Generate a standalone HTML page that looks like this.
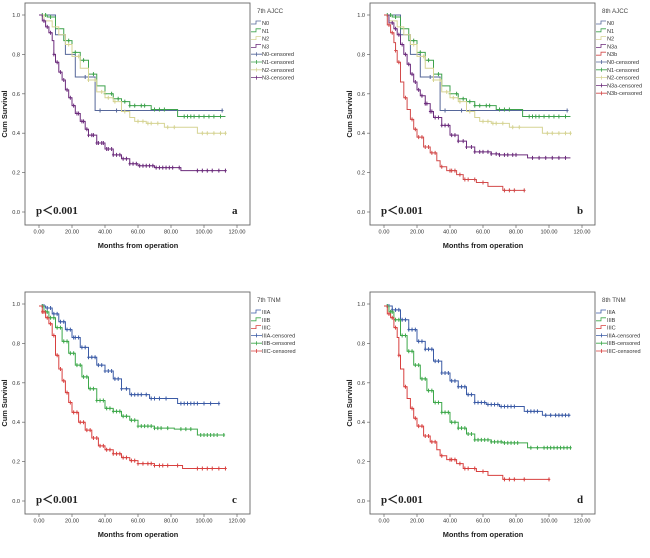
<!DOCTYPE html>
<html><head><meta charset="utf-8">
<style>
html,body{margin:0;padding:0;background:#fff;}
svg{display:block;font-family:"Liberation Sans",sans-serif;}
</style></head>
<body>
<svg id="fig" width="650" height="558" viewBox="0 0 650 558"></svg>
<script>
// ---- Data ----
const xTicks = [0,20,40,60,80,100,120];
const xTickLabels = ["0.00","20.00","40.00","60.00","80.00","100.00","120.00"];
const yTicks = [0,0.2,0.4,0.6,0.8,1.0];
const yTickLabels = ["0.0","0.2","0.4","0.6","0.8","1.0"];

// Panel a (7th AJCC)
const aN0_t = [0,10,16,22,34,111];
const aN0_s = [1.0,0.9,0.8,0.685,0.515,0.515];
const aN0_c = [28,37,47,111];
const aN1_t = [0,5,10,15,20,25,30,35,40,45,50,55,68,84,113];
const aN1_s = [1.0,0.99,0.93,0.87,0.81,0.77,0.70,0.64,0.60,0.575,0.56,0.54,0.52,0.485,0.485];
const aN1_c = [2,4,7,18,22,27,33,40,44,48,52,55,58,62,64,70,73,76,88,90,92,94,97,100,103,106,110];
const aN2_t = [0,3,8,12,16,20,25,30,35,40,45,50,55,58,65,76,96,113];
const aN2_s = [1.0,0.97,0.94,0.90,0.85,0.79,0.73,0.67,0.61,0.58,0.56,0.51,0.48,0.46,0.45,0.43,0.40,0.40];
const aN2_c = [18,24,30,34,38,42,46,52,60,63,66,68,72,78,82,99,102,106,110,113];
const aN3_t = [0,2,4,6,8,9,10,12,14,16,18,20,22,25,28,30,35,40,45,50,55,60,70,86,113];
const aN3_s = [1.0,0.97,0.94,0.91,0.87,0.80,0.76,0.71,0.67,0.62,0.58,0.54,0.50,0.46,0.42,0.39,0.35,0.32,0.29,0.27,0.245,0.235,0.225,0.21,0.21];
const aN3_c = [3,5,7,9,11,13,15,17,19,21,23,24,26,27,29,30,32,33,35,36,38,39,41,42,44,45,47,49,51,53,55,57,59,61,63,65,67,69,71,73,75,77,79,81,85,96,99,102,105,109,113];

// Panel b (8th AJCC)
const bN3a_t = [0,3,6,8,10,12,14,16,18,20,22,25,28,30,35,40,45,50,55,65,70,87,113];
const bN3a_s = [1.0,0.96,0.93,0.90,0.85,0.80,0.75,0.70,0.66,0.62,0.59,0.55,0.51,0.48,0.44,0.39,0.36,0.33,0.305,0.295,0.29,0.275,0.275];
const bN3a_c = [5,7,9,11,13,15,17,19,21,23,25,26,28,29,31,33,35,37,39,41,43,45,48,50,53,55,58,60,63,65,68,70,73,75,78,80,90,94,98,102,106,110];
const bN3b_t = [0,2,4,6,7,8,10,12,14,16,18,20,24,28,32,34,38,44,48,56,63,72,85];
const bN3b_s = [1.0,0.95,0.91,0.86,0.82,0.76,0.66,0.58,0.52,0.47,0.42,0.38,0.33,0.30,0.26,0.23,0.21,0.19,0.165,0.15,0.13,0.11,0.11];
const bN3b_c = [3,5,7,9,13,17,19,21,23,25,27,29,31,35,40,41,43,46,49,51,55,60,73,76,79,85];

// Panel c (7th TNM)
const cA_t = [0,4,8,12,16,20,25,30,35,40,45,50,55,67,84,109];
const cA_s = [0.99,0.98,0.95,0.91,0.87,0.83,0.78,0.73,0.69,0.66,0.62,0.57,0.54,0.52,0.495,0.495];
const cA_c = [2,3,5,7,9,11,13,15,17,19,21,22,24,26,28,30,32,34,36,38,40,42,44,46,48,50,53,56,58,60,62,65,68,70,73,77,86,88,90,92,94,96,100,104,109];
const cB_t = [0,3,6,10,14,18,22,26,30,35,40,45,50,55,60,70,82,96,112];
const cB_s = [0.99,0.96,0.93,0.88,0.81,0.75,0.69,0.63,0.57,0.51,0.47,0.455,0.43,0.41,0.38,0.37,0.365,0.335,0.335];
const cB_c = [2,4,5,7,9,11,13,15,17,19,21,23,25,27,29,31,33,35,37,39,41,43,45,47,49,51,53,56,58,60,62,64,66,68,70,72,74,78,86,89,92,98,100,102,104,106,108,112];
const cC_t = [0,2,4,6,8,10,12,14,16,18,20,24,28,32,36,40,45,50,55,60,70,87,113];
const cC_s = [0.99,0.96,0.93,0.90,0.84,0.74,0.67,0.61,0.55,0.50,0.45,0.40,0.36,0.32,0.28,0.26,0.24,0.22,0.205,0.19,0.18,0.165,0.165];
const cC_c = [2,3,5,7,9,11,13,15,17,19,21,23,25,27,29,31,33,35,37,39,41,43,45,47,49,51,53,56,58,60,63,66,68,70,73,75,78,84,96,99,102,105,109,113];

// Panel d (8th TNM)
const dA_t = [0,5,10,15,20,25,30,35,40,45,50,55,62,70,85,96,113];
const dA_s = [0.99,0.97,0.92,0.87,0.81,0.77,0.71,0.65,0.61,0.58,0.54,0.50,0.49,0.48,0.455,0.435,0.435];
const dA_c = [2,3,5,7,9,11,13,15,17,19,21,23,25,27,29,31,33,35,37,39,41,43,45,47,49,51,53,55,57,59,61,63,65,67,69,71,73,75,77,79,87,89,91,93,98,101,104,106,108,110,112];
const dB_t = [0,3,6,10,14,18,22,26,30,35,40,45,50,55,65,72,87,113];
const dB_s = [0.99,0.96,0.92,0.84,0.76,0.69,0.62,0.56,0.50,0.45,0.40,0.37,0.34,0.31,0.30,0.295,0.27,0.27];
const dB_c = [2,4,5,7,9,11,13,15,17,19,21,23,25,27,29,31,33,35,37,39,41,43,45,47,49,51,53,55,57,59,61,63,65,67,69,71,73,75,77,79,81,89,93,97,99,101,103,105,107,109,111,113];
const dC_t = [0,2,4,6,8,9,10,12,14,16,18,20,24,28,32,34,38,44,48,56,63,72,100];
const dC_s = [0.99,0.95,0.93,0.88,0.83,0.74,0.67,0.58,0.52,0.47,0.42,0.38,0.33,0.30,0.26,0.23,0.21,0.19,0.165,0.15,0.13,0.11,0.11];
const dC_c = [3,5,7,9,13,17,19,21,23,25,27,29,31,35,40,41,43,46,49,51,55,60,73,76,79,85,100];

const C = {N0:"#56679a",N1:"#3ea24c",N2:"#d6d494",N3:"#6c2c7c",N3b:"#d24a4a",A:"#3b5ba6",B:"#3da84a",Cc:"#d8403f"};

const panels = [
 {id:"a",dx:0,dy:0,title:"7th AJCC",curves:[
   ["N0",aN0_t,aN0_s,aN0_c,C.N0],["N1",aN1_t,aN1_s,aN1_c,C.N1],["N2",aN2_t,aN2_s,aN2_c,C.N2],["N3",aN3_t,aN3_s,aN3_c,C.N3]]},
 {id:"b",dx:345,dy:0,title:"8th AJCC",curves:[
   ["N0",aN0_t,aN0_s,aN0_c,C.N0],["N1",aN1_t,aN1_s,aN1_c,C.N1],["N2",aN2_t,aN2_s,aN2_c,C.N2],["N3a",bN3a_t,bN3a_s,bN3a_c,C.N3],["N3b",bN3b_t,bN3b_s,bN3b_c,C.N3b]]},
 {id:"c",dx:0,dy:289,title:"7th TNM",curves:[
   ["IIIA",cA_t,cA_s,cA_c,C.A],["IIIB",cB_t,cB_s,cB_c,C.B],["IIIC",cC_t,cC_s,cC_c,C.Cc]]},
 {id:"d",dx:345,dy:289,title:"8th TNM",curves:[
   ["IIIA",dA_t,dA_s,dA_c,C.A],["IIIB",dB_t,dB_s,dB_c,C.B],["IIIC",dC_t,dC_s,dC_c,C.Cc]]}
];

const NS="http://www.w3.org/2000/svg";
const svg=document.getElementById("fig");
function mk(tag,attrs,parent,text){const e=document.createElementNS(NS,tag);for(const k in attrs)e.setAttribute(k,attrs[k]);if(text!==undefined)e.textContent=text;parent.appendChild(e);return e;}
function stepAt(t,s,x){let v=s[0];for(let i=0;i<t.length;i++){if(t[i]<=x)v=s[i];}return v;}

panels.forEach(p=>{
  const g=mk("g",{transform:`translate(${p.dx},${p.dy})`},svg);
  
  
  const X=v=>39+v*(198/120), Y=v=>212-v*197;
  const box=mk("rect",{x:25,y:3,width:225,height:222,fill:"none",stroke:"#666","stroke-width":0.9},g);
  
  
  xTicks.forEach((v,i)=>{
    mk("line",{x1:X(v),x2:X(v),y1:225,y2:228,stroke:"#666","stroke-width":0.7},g);
    const t=mk("text",{x:X(v),y:233.5,"font-size":5.6,"text-anchor":"middle",fill:"#333"},g,xTickLabels[i]);
    
    
  });
  yTicks.forEach((v,i)=>{
    mk("line",{x1:22,x2:25,y1:Y(v),y2:Y(v),stroke:"#666","stroke-width":0.7},g);
    const t=mk("text",{x:20,y:Y(v)+2,"font-size":5.6,"text-anchor":"end",fill:"#333"},g,yTickLabels[i]);
    
    
  });
  const xt=mk("text",{x:138,y:248,"font-size":7.4,"font-weight":"bold","text-anchor":"middle",fill:"#222"},g,"Months from operation");
  
  
  const yt=mk("text",{x:0,y:0,"font-size":7.4,"font-weight":"bold","text-anchor":"middle",fill:"#222",transform:"translate(7,114) rotate(-90)"},g,"Cum Survival");
  
  
  const pv=mk("text",{x:36,y:214,"font-size":11,"font-weight":"bold","font-family":"Liberation Serif,serif",fill:"#222"},g,"p＜0.001");
  
  
  const lt=mk("text",{x:232,y:214,"font-size":11,"font-weight":"bold","font-family":"Liberation Serif,serif",fill:"#222"},g,p.id);
  
  
  p.curves.forEach(c=>{
    const [name,t,s,cs,col]=c;
    let d=`M${X(t[0])},${Y(s[0])}`;
    for(let i=1;i<t.length;i++){d+=` H${X(t[i])} V${Y(s[i])}`;}
    const path=mk("path",{d:d,fill:"none",stroke:col,"stroke-width":1},g);
    
    
    cs.forEach(ct=>{
      const cx=X(ct), cy=Y(stepAt(t,s,ct));
      const m=mk("path",{d:`M${cx},${cy-2}V${cy+2}M${cx-1.3},${cy}H${cx+1.3}`,stroke:col,"stroke-width":1},g);
      
      
    });
  });
  const lg=mk("g",{},g);
  
  
  mk("text",{x:257,y:13,"font-size":6.2,fill:"#444"},lg,p.title);
  let yy=23;
  p.curves.forEach(c=>{
    const e=mk("g",{},lg);
    
    
    mk("path",{d:`M251,${yy+1}H256V${yy-2}H261`,fill:"none",stroke:c[4],"stroke-width":0.8},e);
    mk("text",{x:262,y:yy+2,"font-size":5.6,fill:"#333"},e,c[0]);
    yy+=7.8;
  });
  p.curves.forEach(c=>{
    const e=mk("g",{},lg);
    
    
    mk("path",{d:`M251,${yy}H262M256.5,${yy-2}V${yy+2}`,fill:"none",stroke:c[4],"stroke-width":0.8},e);
    mk("text",{x:262,y:yy+2,"font-size":5.6,fill:"#333"},e,c[0]+"-censored");
    yy+=7.8;
  });
});
</script>
</body></html>
